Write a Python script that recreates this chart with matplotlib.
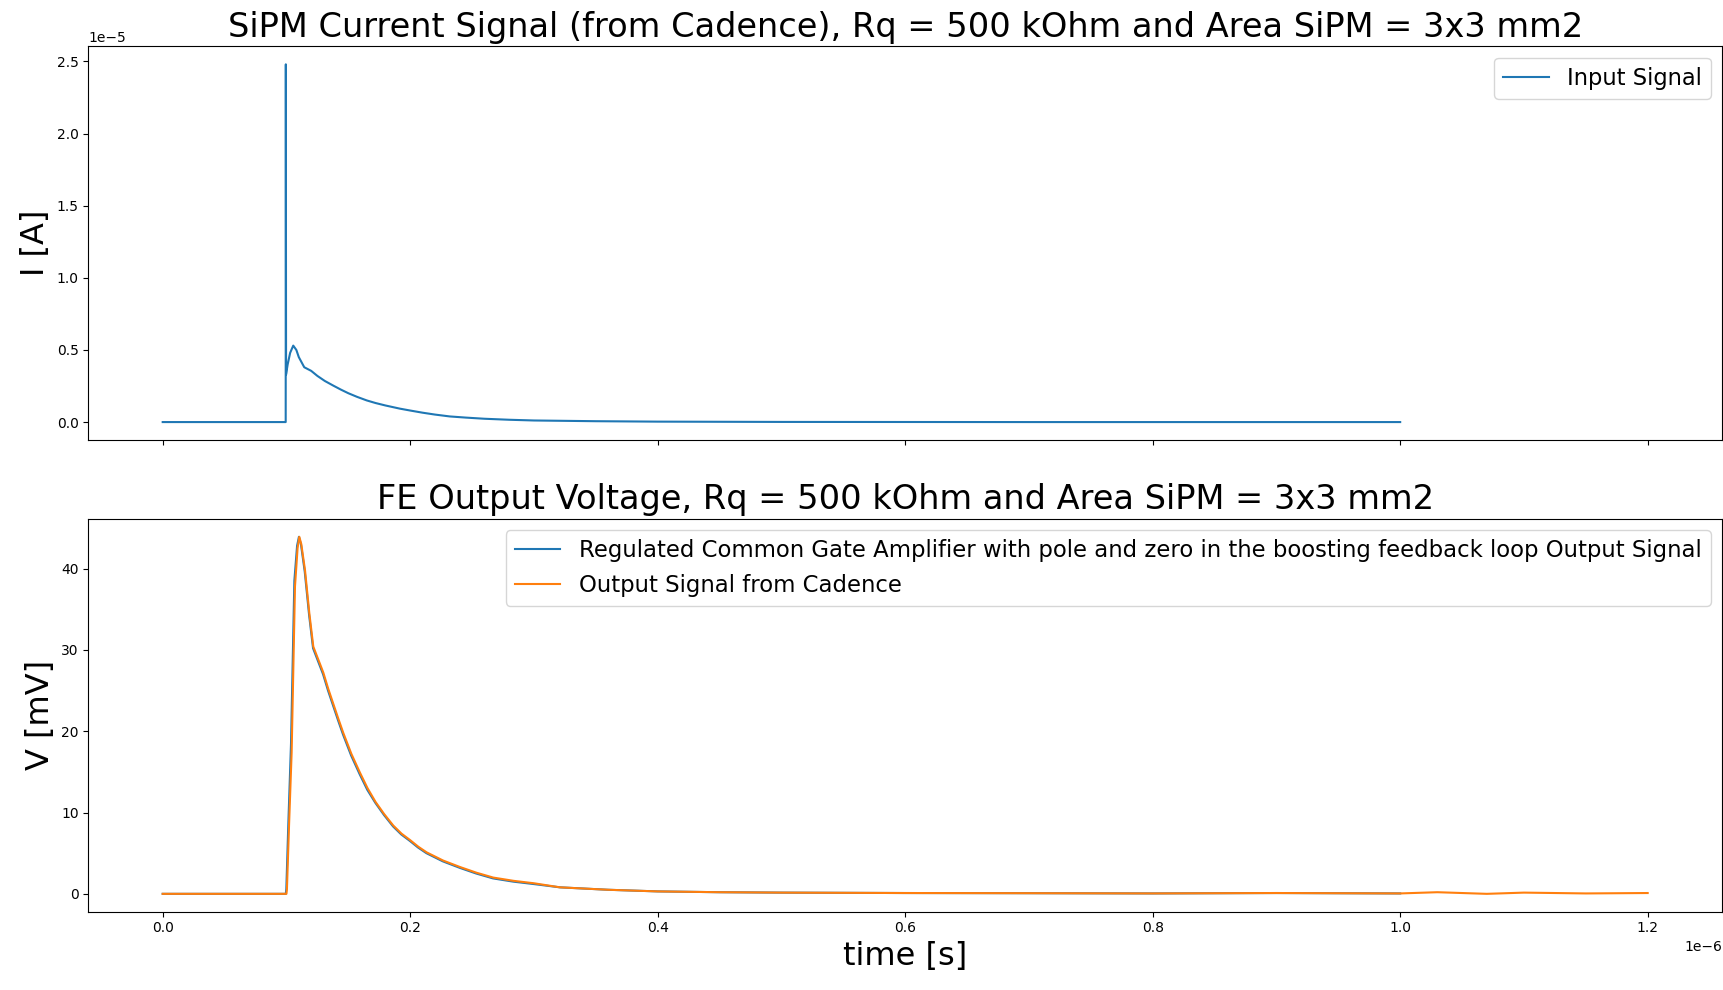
import numpy as np
import matplotlib
matplotlib.use("Agg")
import matplotlib.pyplot as plt

# SiPM input current (time in us, current in 1e-5 A)
t_in = [0.0, 0.0994, 0.0995, 0.0997, 0.1010, 0.1030, 0.1055, 0.1080, 0.1100,
        0.1144, 0.1200, 0.1250, 0.1310, 0.1378, 0.1440, 0.1500, 0.1570, 0.1649,
        0.1720, 0.1800, 0.1917, 0.2000, 0.2100, 0.2200, 0.2320, 0.2450, 0.2600,
        0.2800, 0.3000, 0.3500, 0.4000, 0.5000, 0.7000, 1.0]
i_in = [0.0, 0.0, 2.48, 0.33, 0.40, 0.48, 0.53, 0.50, 0.45,
        0.38, 0.355, 0.32, 0.285, 0.253, 0.225, 0.200, 0.175, 0.150,
        0.132, 0.115, 0.093, 0.080, 0.065, 0.052, 0.039, 0.031, 0.023,
        0.016, 0.011, 0.006, 0.003, 0.001, 0.0, 0.0]

# RCG amplifier model output (mV)
t_rcg = [0.0, 0.0995, 0.0999, 0.1015, 0.1037, 0.1064, 0.1086, 0.1101, 0.1118,
         0.1148, 0.1183, 0.1215, 0.1296, 0.1336, 0.1378, 0.1418, 0.1457, 0.1523,
         0.1592, 0.1653, 0.1718, 0.1788, 0.1861, 0.1928, 0.1998, 0.2063, 0.2131,
         0.2263, 0.2400, 0.2533, 0.2669, 0.2833, 0.3000, 0.3210, 0.3600, 0.4000,
         0.4500, 0.5000, 0.6000, 0.7000, 0.8000, 0.9000, 1.0000]
v_rcg = [0.0, 0.0, 0.6, 8.5, 18.5, 38.5, 42.8, 43.9, 42.9,
         39.6, 34.3, 30.2, 27.0, 25.0, 23.1, 21.3, 19.6, 17.0,
         14.7, 12.8, 11.2, 9.7, 8.3, 7.3, 6.5, 5.7, 5.0,
         4.0, 3.2, 2.5, 1.9, 1.5, 1.2, 0.8, 0.5, 0.3,
         0.2, 0.15, 0.1, 0.08, 0.05, 0.1, 0.05]

# Cadence output (mV)
t_cad = [0.0, 0.1000, 0.1004, 0.1020, 0.1042, 0.1069, 0.1090, 0.1104, 0.1120,
         0.1150, 0.1185, 0.1217, 0.1298, 0.1338, 0.1380, 0.1420, 0.1459, 0.1525,
         0.1594, 0.1655, 0.1720, 0.1790, 0.1863, 0.1930, 0.2000, 0.2065, 0.2133,
         0.2265, 0.2402, 0.2535, 0.2671, 0.2835, 0.3000, 0.3210, 0.3600, 0.4000,
         0.4500, 0.5000, 0.6000, 0.7000, 0.8000, 0.9000, 1.0000, 1.0300, 1.0700,
         1.1000, 1.1500, 1.2000]
v_cad = [0.0, 0.0, 0.6, 8.0, 17.4, 37.8, 42.5, 43.9, 43.0,
         39.8, 34.5, 30.4, 27.2, 25.2, 23.3, 21.5, 19.8, 17.2,
         14.9, 13.0, 11.3, 9.8, 8.4, 7.4, 6.6, 5.8, 5.1,
         4.1, 3.3, 2.6, 2.0, 1.6, 1.3, 0.8, 0.5, 0.3,
         0.2, 0.15, 0.1, 0.08, 0.05, 0.1, 0.05, 0.2, 0.0,
         0.15, 0.05, 0.1]

fig, (ax1, ax2) = plt.subplots(2, 1, sharex=True, figsize=(17.24, 9.9), dpi=100)
ax1.set_position([0.0513, 0.5556, 0.9475, 0.3975])
ax2.set_position([0.0513, 0.0791, 0.9475, 0.3967])

#入力電流
ax1.plot(np.array(t_in) * 1e-6, np.array(i_in) * 1e-5, label="Input Signal")
ax1.set_title("SiPM Current Signal (from Cadence), Rq = 500 kOhm and Area SiPM = 3x3 mm2",
              fontsize=24.2, pad=7)
ax1.set_ylabel("I [A]", fontsize=23)
ax1.legend(loc="upper right", fontsize=16.3)

#出力電圧
ax2.plot(np.array(t_rcg) * 1e-6, v_rcg,
         label="Regulated Common Gate Amplifier with pole and zero in the boosting feedback loop Output Signal")
ax2.plot(np.array(t_cad) * 1e-6, v_cad, label="Output Signal from Cadence")
ax2.set_title("FE Output Voltage, Rq = 500 kOhm and Area SiPM = 3x3 mm2", fontsize=24.2, pad=7)
ax2.set_ylabel("V [mV]", fontsize=23)
ax2.set_xlabel("time [s]", fontsize=23)
ax2.legend(loc="upper right", fontsize=16.4)

for ax in (ax1, ax2):
    ax.tick_params(labelsize=10)
    ax.yaxis.get_offset_text().set_fontsize(10)
ax2.xaxis.get_offset_text().set_fontsize(10)

fig.savefig("out.png", dpi=100)
